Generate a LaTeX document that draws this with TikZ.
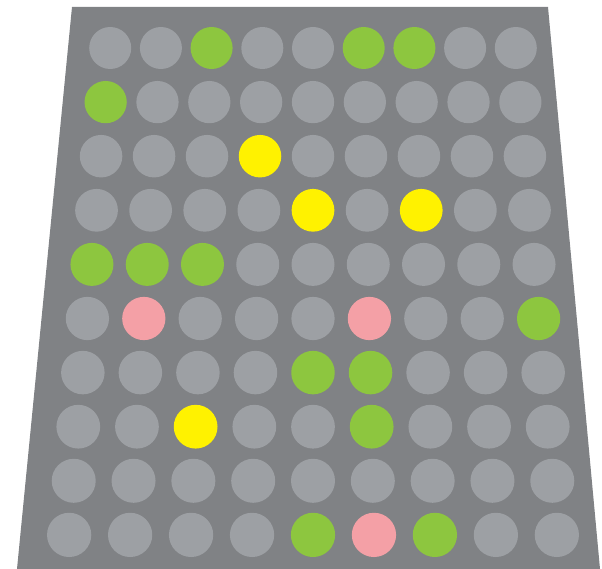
\documentclass[tikz,border=0pt]{standalone}
\definecolor{panelgray}{RGB}{128, 130, 133}
\definecolor{dotgray}{RGB}{157, 160, 164}
\definecolor{dotgreen}{RGB}{141, 198, 63}
\definecolor{dotyellow}{RGB}{255, 242, 0}
\definecolor{dotpink}{RGB}{244, 160, 166}
\usetikzlibrary{calc}
\tikzset{
    dot/.style={
        circle, inner sep=0pt, minimum size=#1,
        fill=dotgray, draw=none
    },
    greendot/.style={fill=dotgreen},
    yellowdot/.style={fill=dotyellow},
    pinkdot/.style={fill=dotpink},
    % coloured cells, row-column
    cell 1-3/.style={greendot}, cell 1-6/.style={greendot}, cell 1-7/.style={greendot},
    cell 2-1/.style={greendot},
    cell 3-4/.style={yellowdot},
    cell 4-5/.style={yellowdot}, cell 4-7/.style={yellowdot},
    cell 5-1/.style={greendot}, cell 5-2/.style={greendot}, cell 5-3/.style={greendot},
    cell 6-2/.style={pinkdot}, cell 6-6/.style={pinkdot}, cell 6-9/.style={greendot},
    cell 7-5/.style={greendot}, cell 7-6/.style={greendot},
    cell 8-3/.style={yellowdot}, cell 8-6/.style={greendot},
    cell 10-5/.style={greendot}, cell 10-6/.style={pinkdot}, cell 10-7/.style={greendot}
}
\begin{document}
\begin{tikzpicture}[x=1pt, y=-1pt]
    \useasboundingbox (0,0) rectangle (602,569);
    % tilted panel
    \fill[panelgray] (72,7) -- (548,7) -- (600,569) -- (17,569) -- cycle;

    % grid of dots, wider towards the bottom
    \foreach \r in {1,...,10}{
        \pgfmathsetmacro\s{50.7+1.14*(\r-1)}
        \pgfmathsetmacro\y{48+54.1*(\r-1)}
        \pgfmathsetmacro\d{42+0.25*(\r-1)}
        \foreach \c in {1,...,9}{
            \pgfmathsetmacro\x{313+(\c-5)*\s}
            \node[dot=\d, cell \r-\c/.try] (d-\r-\c) at (\x,\y) {};
        }
    }
\end{tikzpicture}
\end{document}
